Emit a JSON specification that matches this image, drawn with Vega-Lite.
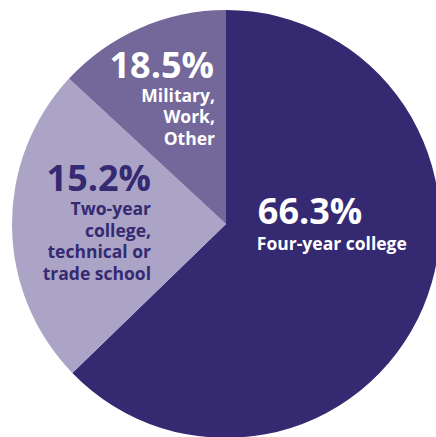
{
  "$schema": "https://vega.github.io/schema/vega-lite/v6.json",
  "width": 452,
  "height": 448,
  "autosize": {"type": "none"},
  "padding": 0,
  "background": "white",
  "config": {"view": {"stroke": null}, "font": "Open Sans"},
  "data": {
    "values": [
      {"category": "Four-year college", "seq": 1, "pct": "66.3%", "drawn_share": 62.75, "label": ["Four-year college"]},
      {"category": "Two-year college, technical or trade school", "seq": 2, "pct": "15.2%", "drawn_share": 24.14, "label": ["Two-year", "college,", "technical or", "trade school"]},
      {"category": "Military, Work, Other", "seq": 3, "pct": "18.5%", "drawn_share": 13.11, "label": ["Military,", "Work,", "Other"]}
    ]
  },
  "encoding": {
    "theta": {"field": "drawn_share", "type": "quantitative", "stack": true, "scale": {"domain": [0, 100]}},
    "order": {"field": "seq", "type": "quantitative"}
  },
  "layer": [
    {
      "mark": {"type": "arc", "outerRadius": 214},
      "encoding": {
        "color": {
          "field": "category",
          "type": "nominal",
          "scale": {
            "domain": ["Four-year college", "Two-year college, technical or trade school", "Military, Work, Other"],
            "range": ["#352a71", "#aba4c6", "#74689b"]
          },
          "legend": null
        }
      }
    },
    {
      "mark": {"type": "text", "radius": 40, "align": "left", "baseline": "alphabetic", "dx": -5, "dy": -16, "fontSize": 36, "fontWeight": "bold", "fill": "white"},
      "encoding": {"text": {"condition": {"test": "datum.seq === 1", "field": "pct", "type": "nominal"}, "value": ""}}
    },
    {
      "mark": {"type": "text", "radius": 40, "align": "left", "baseline": "alphabetic", "dx": -6, "dy": 10, "fontSize": 17.5, "fontWeight": "bold", "fill": "white", "lineHeight": 21.7},
      "encoding": {"text": {"condition": {"test": "datum.seq === 1", "field": "label", "type": "nominal"}, "value": ""}}
    },
    {
      "mark": {"type": "text", "radius": 76, "align": "right", "baseline": "alphabetic", "dx": 1, "dy": -34, "fontSize": 36, "fontWeight": "bold", "fill": "#352a71"},
      "encoding": {"text": {"condition": {"test": "datum.seq === 2", "field": "pct", "type": "nominal"}, "value": ""}}
    },
    {
      "mark": {"type": "text", "radius": 76, "align": "right", "baseline": "alphabetic", "dx": 1, "dy": -10, "fontSize": 17.5, "fontWeight": "bold", "fill": "#352a71", "lineHeight": 21.7},
      "encoding": {"text": {"condition": {"test": "datum.seq === 2", "field": "label", "type": "nominal"}, "value": ""}}
    },
    {
      "mark": {"type": "text", "radius": 150, "align": "right", "baseline": "alphabetic", "dx": 48, "dy": -9, "fontSize": 36, "fontWeight": "bold", "fill": "white"},
      "encoding": {"text": {"condition": {"test": "datum.seq === 3", "field": "pct", "type": "nominal"}, "value": ""}}
    },
    {
      "mark": {"type": "text", "radius": 150, "align": "right", "baseline": "alphabetic", "dx": 49, "dy": 15, "fontSize": 17.5, "fontWeight": "bold", "fill": "white", "lineHeight": 21.5},
      "encoding": {"text": {"condition": {"test": "datum.seq === 3", "field": "label", "type": "nominal"}, "value": ""}}
    }
  ]
}
